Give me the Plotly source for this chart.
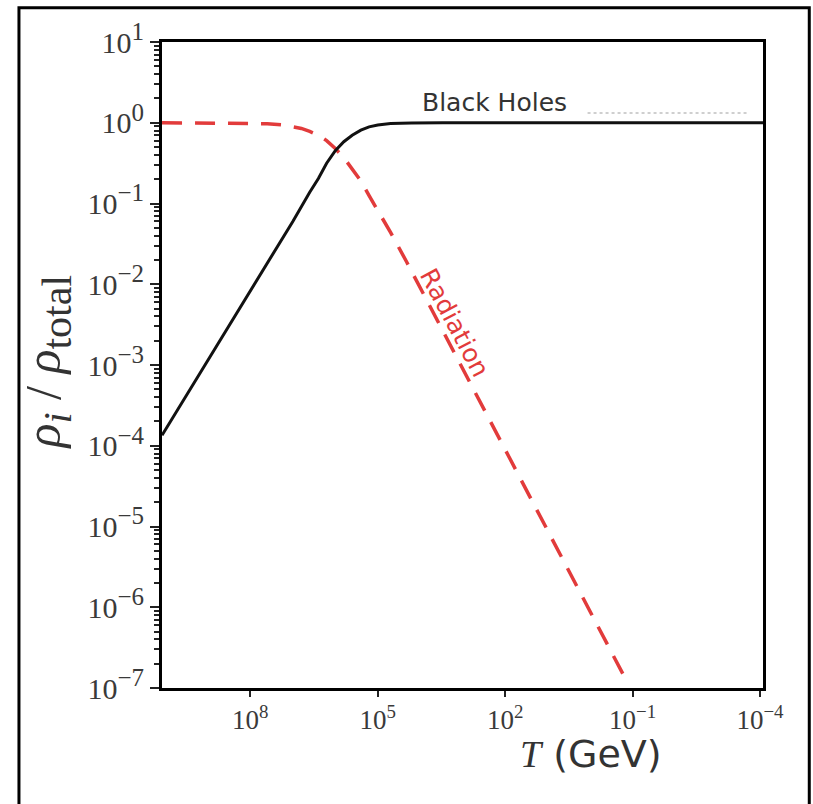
import plotly.graph_objects as go

# ---- data ----
T_bh = [1.2e10, 1.0e9, 1.0e8, 1.0e7, 4.0e6, 2.5e6, 1.6e6, 1.0e6, 6.3e5, 4.0e5, 2.5e5, 1.6e5,
        1.0e5, 5.0e4, 1.6e4, 3.0e3, 8.5e-5]
frac_bh = [1.35e-4, 1.15e-3, 8.3e-3, 6.0e-2, 0.138, 0.204, 0.315, 0.452, 0.582, 0.70, 0.81, 0.89,
           0.94, 0.977, 0.995, 1.0, 1.0]

T_rad = [1.2e10, 4.0e7, 1.6e7, 6.3e6, 4.0e6, 2.5e6, 1.6e6, 1.0e6, 6.3e5, 4.0e5, 2.5e5, 1.6e5,
         1.0e5, 5.0e4, 2.1e4, 1.0e3, 1.0e2, 1.0e1, 1.0, 0.17]
frac_rad = [1.0, 0.973, 0.935, 0.85, 0.78, 0.70, 0.60, 0.48, 0.37, 0.27, 0.19, 0.125,
            0.083, 0.044, 0.019, 9.1e-4, 8.9e-5, 8.9e-6, 8.9e-7, 1.5e-7]

T_ghost = [1.15, 2.0e-4]
frac_ghost = [1.32, 1.32]

x_tickvals = [1e8, 1e5, 1e2, 1e-1, 1e-4]
x_exponents = ["8", "5", "2", "−1", "−4"]
y_tickvals = [1e-7, 1e-6, 1e-5, 1e-4, 1e-3, 1e-2, 1e-1, 1e0, 1e1]
y_exponents = ["−7", "−6", "−5", "−4", "−3", "−2", "−1", "0", "1"]

label_bh = "Black Holes"
label_rad = "Radiation"

x_ticktext = ["10<sup>%s</sup>" % e for e in x_exponents]
y_ticktext = ["10<sup><span style='font-size:25px'>%s</span></sup>" % e for e in y_exponents]

# ---- figure ----
fig = go.Figure()
fig.add_trace(go.Scatter(x=T_ghost, y=frac_ghost, mode="lines",
                         line=dict(color="#c0c0c0", width=1.5, dash="dot"), hoverinfo="skip"))
fig.add_trace(go.Scatter(x=T_rad, y=frac_rad, mode="lines",
                         line=dict(color="#e23b3b", width=3.5, dash="20px,13px")))
fig.add_trace(go.Scatter(x=T_bh, y=frac_bh, mode="lines",
                         line=dict(color="#111111", width=3)))

fig.update_xaxes(type="log", range=[10.08, -4.07], tickvals=x_tickvals, ticktext=x_ticktext,
                 ticks="outside", ticklen=6, tickwidth=2, tickcolor="#222",
                 showline=True, linewidth=3, linecolor="black", mirror=True,
                 showgrid=False, zeroline=False, automargin=False,
                 tickfont=dict(family="Liberation Serif", size=27, color="#3a3a3a"))
fig.update_yaxes(type="log", range=[-7, 1], tickvals=y_tickvals, ticktext=y_ticktext,
                 ticks="outside", ticklen=9, tickwidth=2, tickcolor="#222",
                 minor=dict(ticks="outside", ticklen=5, tickwidth=1.5, tickcolor="#222", dtick="D1"),
                 showline=True, linewidth=3, linecolor="black", mirror=True,
                 showgrid=False, zeroline=False, automargin=False,
                 tickfont=dict(family="Liberation Serif", size=30, color="#3a3a3a"))

fig.add_annotation(x=2.24, y=0.25, xref="x", yref="y", text=label_bh, showarrow=False,
                   xanchor="center", yanchor="middle",
                   font=dict(family="DejaVu Sans", size=25, color="#333333"))
fig.add_annotation(x=3.19, y=-2.47, xref="x", yref="y", text=label_rad, showarrow=False, textangle=62,
                   xanchor="center", yanchor="middle",
                   font=dict(family="DejaVu Sans", size=25, color="#e23b3b"))
fig.add_annotation(x=0.714, y=-0.102, xref="paper", yref="paper", xanchor="center", yanchor="middle",
                   text="<span style='font-family:Liberation Serif'><i>T</i></span> (GeV)",
                   showarrow=False, font=dict(family="DejaVu Sans", size=38, color="#333333"))
fig.add_annotation(x=-0.19, y=0.505, xref="paper", yref="paper", textangle=-90,
                   xanchor="center", yanchor="middle",
                   text="<i>ρ</i><sub><span style='font-size:40px'><i>i</i></span></sub>\u00a0/\u00a0"
                        "<i>ρ</i><sub><span style='font-size:42px'>total</span></sub>",
                   showarrow=False, font=dict(family="Liberation Serif", size=50, color="#333333"))

fig.add_shape(type="rect", xref="paper", yref="paper", x0=-0.238, x1=1.077, y0=-0.2, y1=1.053,
              line=dict(color="black", width=3), fillcolor="rgba(0,0,0,0)", layer="above")

fig.update_layout(width=813, height=804, margin=dict(l=162, r=50, t=42, b=116),
                  paper_bgcolor="white", plot_bgcolor="white", showlegend=False)

fig.write_html("out.html")
